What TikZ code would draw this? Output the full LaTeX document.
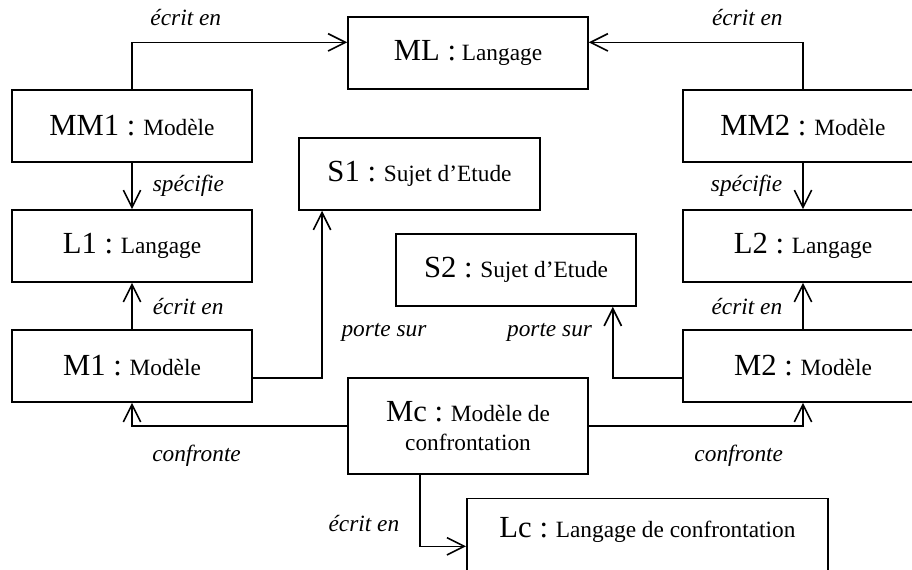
\documentclass[tikz,border=0pt]{standalone}
\usepackage{fontspec}
\setmainfont{Liberation Serif}
\usetikzlibrary{arrows.meta}

\newcommand{\gros}[1]{{\fontsize{23}{27}\selectfont #1}}

\begin{document}
\begin{tikzpicture}[x=0.75pt, y=-0.75pt, >={Straight Barb[length=13pt,width=13pt]},
	line width=1.2pt, node distance=90pt,
	boite/.style={draw, rectangle, minimum width=180pt, minimum height=54pt, inner sep=2pt,
		align=center, font=\fontsize{17.5}{22}\selectfont},
	lien/.style={font=\fontsize{17.5}{21}\itshape, inner sep=2pt}]
	\clip (0,0) rectangle (912,569);

	% Nodes {ML, MM1, L1, M1, ...}
	\node [boite] 	(ml)	at (468,53)		{\gros{ML :} Langage};
	\node [boite] 	(mm1)	at (132,126)	{\gros{MM1 :} Modèle};
	\node [boite] 	(l1)	[below of=mm1]	{\gros{L1 :} Langage};
	\node [boite] 	(m1)	[below of=l1]	{\gros{M1 :} Modèle};
	\node [boite] 	(mm2)	at (803,126)	{\gros{MM2 :} Modèle};
	\node [boite] 	(l2)	[below of=mm2]	{\gros{L2 :} Langage};
	\node [boite] 	(m2)	[below of=l2]	{\gros{M2 :} Modèle};
	\node [boite, minimum width=181pt] 	(s1)	at (419.5,174)	{\gros{S1 :} Sujet d’Etude};
	\node [boite] 	(s2)	at (516,270)	{\gros{S2 :} Sujet d’Etude};
	\node [boite, minimum height=72pt] 	(mc)	at (468,426)	{\gros{Mc :} Modèle de\\confrontation};
	\node [boite, minimum width=271pt, minimum height=58pt] 	(lc)	at (647.5,537)	{\gros{Lc :} Langage de confrontation\\[-7pt]};

	% Paths
	\draw [->] 	(mm1.north) |- node [lien, above=10pt, pos=0.625] {écrit en} ([yshift=8pt]ml.west);
	\draw [->] 	(mm2.north) |- node [lien, above=10pt, pos=0.63] {écrit en} ([yshift=8pt]ml.east);
	\draw [->] 	(mm1) -- node [lien, right=13pt] {spécifie} (l1);
	\draw [->] 	(mm2) -- node [lien, left=13pt] {spécifie} (l2);
	\draw [->] 	(m1) -- node [lien, right=13pt] {écrit en} (l1);
	\draw [->] 	(m2) -- node [lien, left=13pt] {écrit en} (l2);
	\draw [->] 	([yshift=-9pt]m1.east) -| node [lien, right=12pt, pos=0.637] {porte sur} ([xshift=18pt]s1.south west);
	\draw [->] 	([yshift=-9pt]m2.west) -| node [lien, left=13pt, pos=0.82] {porte sur} ([xshift=-18pt]s2.south east);
	\draw [->] 	(mc.west) -| node [lien, below=12pt, pos=0.35] {confronte} (m1.south);
	\draw [->] 	(mc.east) -| node [lien, below=12pt, pos=0.35] {confronte} (m2.south);
	\draw [->] 	([xshift=-36pt]mc.south) |- node [lien, left=13pt, pos=0.34] {écrit en} ([yshift=-7pt]lc.west);

\end{tikzpicture}
\end{document}
